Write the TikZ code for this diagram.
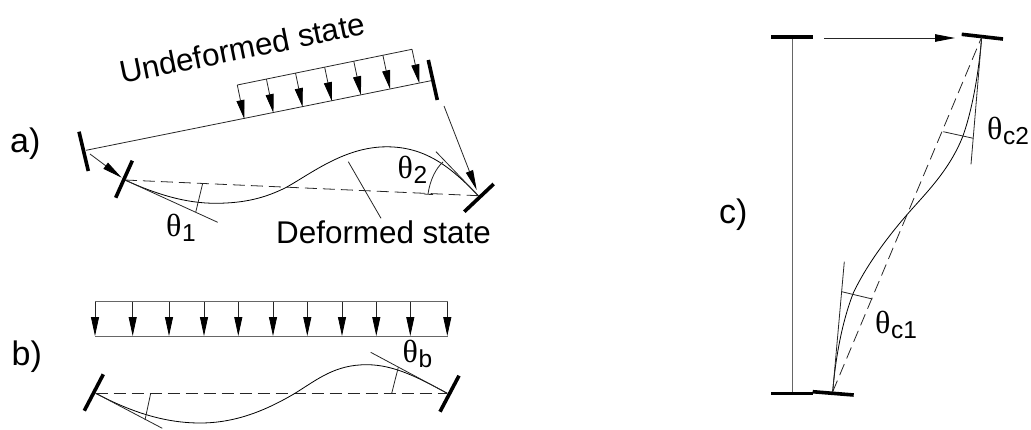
\documentclass[tikz,border=0pt]{standalone}
\usepackage{fontspec}
\setmainfont{Liberation Sans}
\newfontfamily\thetafont{Liberation Serif}
\usetikzlibrary{arrows.meta,calc}
\newcommand{\thsub}[1]{{\thetafont\fontsize{32}{32}\selectfont θ}\kern0.5pt\raisebox{-5pt}{\fontsize{24.5}{24.5}\selectfont #1}}
\tikzset{
  x=1pt,y=-1pt,
  lab/.style={inner sep=0pt,anchor=base west,font=\fontsize{31.4}{31.4}\selectfont},
  part/.style={inner sep=0pt,anchor=base west,font=\fontsize{34}{34}\selectfont},
  ang/.style={inner sep=0pt,anchor=base west},
  thin line/.style={line width=0.8pt,black!85},
  gray line/.style={line width=1pt,black!60},
  plate/.style={line width=3.6pt,black},
  curve/.style={line width=0.8pt,black},
  dash line/.style={line width=0.8pt,black!85,dash pattern=on 12pt off 6pt},
  load/.style={line width=0.8pt,black!85,-{Triangle[length=19pt,width=8pt,black]}},
  move/.style={line width=0.8pt,black!85,-{Triangle[length=20pt,width=7.5pt,black]}},
}
\begin{document}
\begin{tikzpicture}
\useasboundingbox (0,0) rectangle (1031,429);
% ---------- a) ----------
\coordinate (a1) at (79,131.7);\coordinate (a2) at (88.3,171);
\coordinate (a3) at (428.3,60);\coordinate (a4) at (437.3,100);
\coordinate (aL) at (86,150.3);\coordinate (aR) at (431,80.7);
\coordinate (tS) at (237.3,85);\coordinate (tE) at (412,49.3);
\coordinate (bS) at (244.3,119);\coordinate (bE) at (419.3,83.3);
\coordinate (d1) at (132.3,160.7);\coordinate (d2) at (115.7,197.7);
\coordinate (d3) at (493.7,184);\coordinate (d4) at (464.3,211.7);
\coordinate (dL) at (125,180);\coordinate (dR) at (478.3,195.7);
\draw[plate] (a1)--(a2);
\draw[plate] (a3)--(a4);
\draw[plate] (d1)--(d2);
\draw[plate] (d3)--(d4);
\draw[thin line] (aL)--(aR);
\draw[thin line] (tS)--(tE);
\foreach \i in {0,...,6}
  \draw[load] ($(tS)!\i/6!(tE)$) -- ($(bS)!\i/6!(bE)$);
\draw[dash line] (dL)--(dR);
\draw[curve] (dL) .. controls (155,193.7) and (185,203.5) .. (216.7,203.3)
  .. controls (245,203) and (265,198) .. (286,187.5)
  .. controls (312,173) and (345,146.8) .. (386.7,146.8)
  .. controls (425,146.8) and (450,166.2) .. (dR);
\coordinate (aT1) at (217.7,222.3);\coordinate (aT2) at (436,151.7);
\draw[thin line] (dL)--(aT1);
\draw[thin line] (dR)--(aT2);
\coordinate (aK1) at (202.7,183.3);\coordinate (aK2) at (195.7,212.3);
\draw[thin line] (aK1)--(aK2);
\coordinate (aA1) at (443,162);\coordinate (aA2) at (428,194);
\draw[thin line] (aA1) .. controls (436,168) and (430,180) .. (aA2);
\coordinate (aG1) at (424,194);\coordinate (aG2) at (433,194.6);
\draw[thin line] (aG1)--(aG2);
\coordinate (lead1) at (348.3,161.7);\coordinate (lead2) at (381,218.3);
\draw[thin line] (lead1)--(lead2);
\coordinate (m1) at (90,154);\coordinate (m2) at (121.7,177.7);
\draw[move] (m1)--(m2);
\coordinate (m3) at (444,106);\coordinate (m4) at (476.7,190);
\draw[move] (m3)--(m4);
\node[part] (ta) at (10,152.7) {a)};
\node[lab,rotate=11.5] (tU) at (122,84) {Undeformed state};
\node[lab] (tD) at (276,243) {Deformed state};
\node[ang] (t1) at (166,236.7) {\thsub{1}};
\node[ang] (t2) at (397.5,178) {\thsub{2}};
% ---------- b) ----------
\coordinate (pTL) at (95,301.7);\coordinate (pTR) at (447.7,301.7);
\coordinate (pBL) at (95,336);\coordinate (pBR) at (447.7,336);
\draw[gray line] (pTL)--(pTR);
\draw[gray line] (pBL)--(pBR);
\foreach \x in {95,132.7,169,204,238.3,273,307.3,342,376.3,410.3,447.3}
  \draw[load] (\x,301.7)--(\x,336);
\coordinate (e1) at (103.3,374.3);\coordinate (e2) at (84.3,410.7);
\coordinate (e3) at (459,375.7);\coordinate (e4) at (440,411.7);
\coordinate (eL) at (95.7,393.3);\coordinate (eR) at (447.3,393.3);
\draw[plate] (e1)--(e2);
\draw[plate] (e3)--(e4);
\draw[dash line] (eL)--(eR);
\draw[curve] (eL) .. controls (125,408.7) and (160,423) .. (200,423)
  .. controls (235,423) and (265,411) .. (295,393.3)
  .. controls (318,379) and (335,364.7) .. (366.7,364.7)
  .. controls (395,364.7) and (420,378.7) .. (eR);
\coordinate (bT1) at (162.3,428.3);\coordinate (bT2) at (370.7,352.3);
\draw[thin line] (eL)--(bT1);
\draw[thin line] (eR)--(bT2);
\coordinate (bK1) at (150.7,393.3);\coordinate (bK2) at (145,420);
\draw[thin line] (bK1)--(bK2);
\coordinate (bK3) at (391.7,393.3);\coordinate (bK4) at (398.3,367.3);
\draw[thin line] (bK3)--(bK4);
\node[part] (tb) at (11.5,365) {b)};
\node[ang] (tt) at (402.5,362.5) {\thsub{b}};
% ---------- c) ----------
\coordinate (f1) at (771,36.7);\coordinate (f2) at (812.7,36.7);
\coordinate (f3) at (771,393.3);\coordinate (f4) at (812.7,393.3);
\coordinate (f5) at (961.7,34.3);\coordinate (f6) at (1003,39);
\coordinate (f7) at (812.7,391.7);\coordinate (f8) at (853.7,395);
\coordinate (vT) at (792,36.7);\coordinate (vB) at (792,393.3);
\coordinate (cL) at (832.7,391.7);\coordinate (cR) at (981.7,37);
\draw[gray line] (vT)--(vB);
\draw[plate] (f1)--(f2);
\draw[plate] (f3)--(f4);
\draw[plate] (f5)--(f6);
\draw[plate] (f7)--(f8);
\coordinate (m5) at (824,38);\coordinate (m6) at (955,38);
\draw[move] (m5)--(m6);
\draw[dash line] (cL)--(cR);
\draw[curve] (cL) .. controls (835.5,358) and (842,322) .. (853.3,293)
  .. controls (865,268) and (885,240) .. (906.7,215)
  .. controls (925,194) and (950,170) .. (963.3,135)
  .. controls (972,110) and (978.5,75) .. (cR);
\coordinate (cT1) at (844.3,261.7);\coordinate (cT2) at (971,164.3);
\draw[thin line] (cL)--(cT1);
\draw[thin line] (cR)--(cT2);
\coordinate (cK1) at (943.3,131.7);\coordinate (cK2) at (973.3,138.3);
\draw[thin line] (cK1)--(cK2);
\coordinate (cK3) at (841.7,291.7);\coordinate (cK4) at (872.3,299);
\draw[thin line] (cK3)--(cK4);
\node[part] (tc) at (719,223) {c)};
\node[ang] (tc2) at (987,139) {\thsub{c2}};
\node[ang] (tc1) at (875,333) {\thsub{c1}};
\end{tikzpicture}
\end{document}
